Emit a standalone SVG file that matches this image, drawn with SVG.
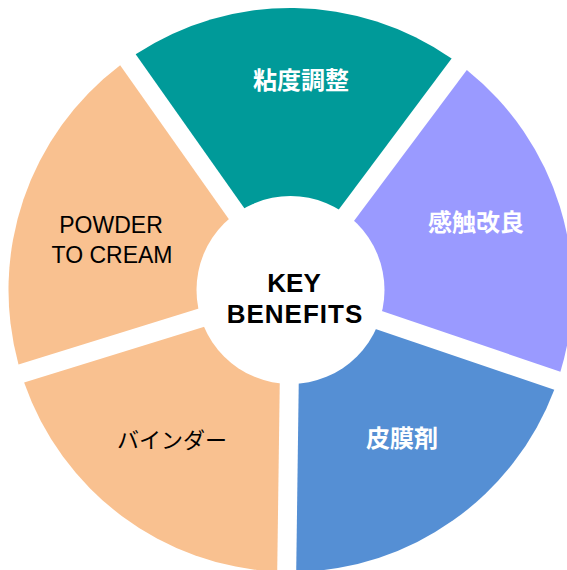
<svg xmlns="http://www.w3.org/2000/svg" width="567" height="570" viewBox="0 0 567 570">
<style>
.lat{font-family:"Liberation Sans",Arial,sans-serif;fill:#000;text-anchor:middle}
.jpw{font-family:"Noto Sans CJK JP",sans-serif;font-weight:bold;fill:#fff;text-anchor:middle;font-size:24px}
.jpb{font-family:"Noto Sans CJK JP",sans-serif;fill:#000;text-anchor:middle;font-size:22px}
</style>
<rect width="567" height="570" fill="#fff"/>
<g id="teal">
<path d="M290.72 273.84 L135.67 54.30 A282 282 0 0 1 451.60 58.54 Z" fill="#009A99"/>
<text class="jpw" x="301" y="89">粘度調整</text>
</g>
<g id="purple">
<path d="M305.93 285.21 L466.82 69.92 A282 282 0 0 1 560.41 371.70 Z" fill="#9A9AFF"/>
<text class="jpw" x="476" y="231">感触改良</text>
</g>
<g id="blue">
<path d="M299.82 303.20 L554.29 389.69 A282 282 0 0 1 296.21 571.94 Z" fill="#558FD4"/>
<text class="jpw" x="402" y="447">皮膜剤</text>
</g>
<g id="binder">
<path d="M280.83 302.94 L277.21 571.68 A282 282 0 0 1 24.12 382.55 Z" fill="#F9C190"/>
<text class="jpb" x="172" y="448">バインダー</text>
</g>
<g id="powder">
<path d="M275.20 284.80 L18.50 364.41 A282 282 0 0 1 120.15 65.26 Z" fill="#F9C190"/>
<text class="lat" font-size="23" x="111" y="233">POWDER</text>
<text class="lat" font-size="23" x="112" y="263">TO CREAM</text>
</g>
<g id="center">
<circle cx="290.5" cy="290" r="94" fill="#fff"/>
<text class="lat" font-size="26" font-weight="bold" x="294" y="292">KEY</text>
<text class="lat" font-size="26" font-weight="bold" x="295" y="323" letter-spacing="1">BENEFITS</text>
</g>
<g id="connectors"/>
</svg>
